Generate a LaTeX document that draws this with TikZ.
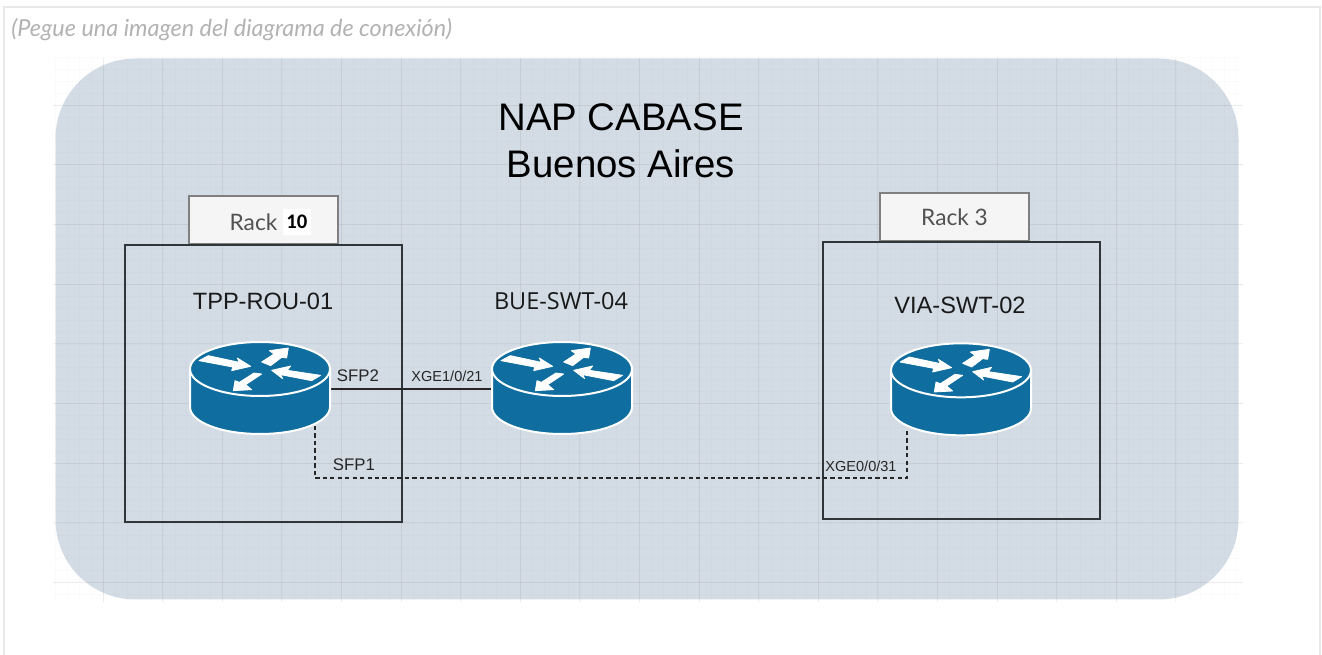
\documentclass[tikz,border=0pt]{standalone}
\usepackage{fontspec}
\setmainfont{Liberation Sans}
\newfontfamily\latofont{Lato}
\newfontfamily\calibfont{Carlito}
\newfontfamily\openfont{Open Sans}
\usetikzlibrary{positioning}

\definecolor{regionblue}{HTML}{D3DCE5}
\definecolor{routerblue}{HTML}{0F6E9F}
\definecolor{rackline}{HTML}{30353A}

\tikzset{
    region/.style={fill=regionblue, rounded corners=60pt, minimum width=887.25pt, minimum height=405.75pt, inner sep=0pt, outer sep=0pt},
    gridmajor/.style={gray, opacity=0.12, line width=0.7pt},
    gridminor/.style={gray, opacity=0.035, line width=0.5pt},
    rackbox/.style={draw=rackline, line width=1.2pt, minimum width=207.75pt, minimum height=207.75pt, inner sep=0pt, outer sep=0pt},
    racktab/.style={draw=black!50, fill=black!4, line width=1.1pt, minimum width=111.75pt, minimum height=36pt, inner sep=0pt, outer sep=0pt},
    racktext/.style={inner sep=0pt, text=black!68, font=\latofont\fontsize{17}{19}\selectfont},
    hubbox/.style={minimum width=106.5pt, minimum height=70.5pt, inner sep=0pt, outer sep=0pt},
    hostname/.style={inner sep=0pt, text=black!90, font=\fontsize{17.7}{20}\selectfont},
    portname/.style={inner sep=0pt, text=black!85, font=\fontsize{12.6}{14}\selectfont},
    xgename/.style={inner sep=0pt, text=black!85, font=\fontsize{10.9}{13}\selectfont},
    link/.style={draw=black!85, line width=0.9pt},
    dashlink/.style={draw=black!85, line width=0.9pt, dash pattern=on 3.2pt off 2.4pt},
    routerarrow/.style={fill=white, draw=white, line width=0.6pt, line join=round, scale=0.3333},
    pics/router/.style={code={
        \draw[fill=routerblue, draw=white, line width=1.5pt] (-70,0) -- (-70,38) .. controls (-70,53) and (-39,65) .. (0,65) .. controls (39,65) and (70,53) .. (70,38) -- (70,0) -- cycle;
        \draw[fill=routerblue, draw=white, line width=1.5pt] (0,0) ellipse [x radius=70, y radius=27];
        \path[routerarrow] (-183,-25) -- (-155,-40) -- (-62,-20) -- (-68,-33) -- (-28,-8) -- (-85,5) -- (-82,-6) -- cycle;
        \path[routerarrow] (5,-21) -- (32,-10) -- (65,-35) -- (80,-33) -- (85,-63) -- (28,-55) -- (42,-45) -- cycle;
        \path[routerarrow] (35,4) -- (92,-9) -- (82,4) -- (182,19) -- (155,35) -- (62,17) -- (68,29) -- cycle;
        \path[routerarrow] (-18,12) -- (5,15) -- (-43,47) -- (-25,62) -- (-80,65) -- (-75,35) -- (-62,40) -- cycle;
    }}
}

\begin{document}
\begin{tikzpicture}[x=0.75pt, y=-0.75pt]
    \useasboundingbox (0,0) rectangle (1322,655);

    % Page frame
    \coordinate (frameA) at (4,655);
    \coordinate (frameB) at (4,7);
    \coordinate (frameC) at (1320,7);
    \coordinate (frameD) at (1320,655);
    \draw[black!9, line width=2pt] (frameA) -- (frameB) -- (frameC) -- (frameD);
    \node[anchor=west, inner sep=0pt, text=black!30, font=\latofont\itshape\fontsize{17.55}{19}\selectfont] (note) at (11,30) {(Pegue una imagen del diagrama de conexión)};

    % Region and grid
    \node[region] (cabase) at (647,329) {};
    \foreach \gx in {0,...,99}
        \draw[gridminor] ({55.7+11.92*\gx},58) -- ({55.7+11.92*\gx},602);
    \foreach \gy in {0,...,45}
        \draw[gridminor] (53,{57.3+11.94*\gy}) -- (1243,{57.3+11.94*\gy});
    \foreach \gx in {0,...,18}
        \draw[gridmajor] ({103+59.6*\gx},58) -- ({103+59.6*\gx},602);
    \foreach \gy in {0,...,8}
        \draw[gridmajor] (53,{105+59.7*\gy}) -- (1243,{105+59.7*\gy});

    \node[inner sep=0pt, text=black, font=\fontsize{28.8}{32}\selectfont] (title) at (621,117) {NAP CABASE};
    \node[below=14pt of title, inner sep=0pt, text=black, font=\fontsize{28.8}{32}\selectfont] (city) {Buenos Aires};

    % Racks
    \node[racktab] (tabA) at (263.5,220) {};
    \node[racktab] (tabB) at (954.5,217) {};
    \node[rackbox] (rackA) at (263.5,383.5) {};
    \node[rackbox] (rackB) at (961.4,380.4) {};
    \node[racktext] (tabAtext) at (253.5,222) {Rack};
    \node[right=3.75pt of tabAtext, fill=white, minimum width=21pt, minimum height=20pt, inner sep=0pt, font=\calibfont\bfseries\fontsize{15.5}{17}\selectfont] (tabAnum) {10};
    \node[racktext] (tabBtext) at (tabB) {Rack 3};

    % Nodes
    \node[hubbox] (rou) at (260,389) {};
    \node[hubbox, right=226.5pt of rou.center, anchor=center] (swt) {};
    \node[hubbox, right=299.25pt of swt.center, anchor=center, yshift=-1pt] (via) {};
    \node[hostname] (rouname) at (263,301) {TPP-ROU-01};
    \node[hostname, font=\openfont\fontsize{17.6}{20}\selectfont] (swtname) at (561,301) {BUE-SWT-04};
    \node[hostname] (vianame) at (960,305) {VIA-SWT-02};
    \coordinate (sfpout) at (315,426);
    \coordinate (turn) at (907,478);
    \coordinate (xgein) at (907,429);

    % Connections
    \draw[link] (rou) -- (swt);
    \draw[dashlink] (sfpout) |- (turn) -- (xgein);

    \pic at ([yshift=15pt]rou.center) {router};
    \pic at ([yshift=15pt]swt.center) {router};
    \pic at ([yshift=15pt]via.center) {router};

    \node[portname] (sfptwo) at (358,376) {SFP2};
    \node[portname] (sfpone) at (354,465) {SFP1};
    \node[xgename] (xgeone) at (447,376) {XGE1/0/21};
    \node[xgename] (xgetwo) at (861,466) {XGE0/0/31};
\end{tikzpicture}
\end{document}
